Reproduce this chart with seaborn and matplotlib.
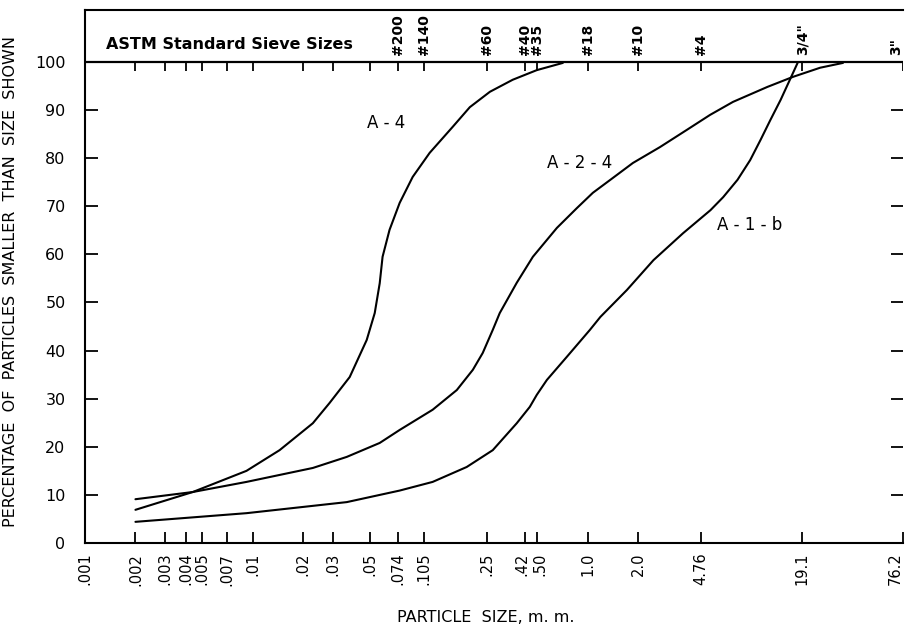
import matplotlib
matplotlib.use("Agg")
import matplotlib.pyplot as plt
from matplotlib.transforms import ScaledTranslation
import seaborn as sns
import pandas as pd

# ---- data ----
a4_size = [0.002, 0.0044, 0.0092, 0.0145, 0.0229, 0.0288, 0.038, 0.048, 0.0536,
           0.0574, 0.0597, 0.0657, 0.0755, 0.0903, 0.114, 0.1564, 0.198, 0.261,
           0.357, 0.497, 0.711]
a4_pct = [6.9, 10.6, 15.0, 19.3, 24.9, 29.1, 34.5, 42.2, 47.8,
          54.0, 59.5, 65.1, 70.7, 76.1, 81.1, 86.5, 90.6, 93.8,
          96.3, 98.3, 99.8]

a24_size = [0.002, 0.0044, 0.0092, 0.0229, 0.0365, 0.0574, 0.0755, 0.1188, 0.1656,
            0.2064, 0.2364, 0.2714, 0.2987, 0.3774, 0.471, 0.655, 0.861, 1.074,
            1.415, 1.862, 2.70, 3.915, 5.38, 7.37, 11.8, 16.8, 24.4, 33.4]
a24_pct = [9.1, 10.6, 12.7, 15.6, 17.9, 20.8, 23.5, 27.7, 31.8,
           36.0, 39.5, 44.3, 47.8, 54.1, 59.5, 65.5, 69.6, 72.8,
           75.9, 79.0, 82.3, 85.9, 89.0, 91.7, 94.8, 96.9, 98.8, 99.8]

a1b_size = [0.002, 0.0092, 0.0365, 0.0755, 0.1188, 0.1897, 0.2714, 0.3774, 0.4515,
            0.497, 0.571, 0.751, 1.031, 1.191, 1.715, 2.47, 3.71, 5.41, 6.44,
            7.84, 9.33, 10.76, 12.3, 14.17, 16.1, 17.9]
a1b_pct = [4.4, 6.2, 8.5, 10.9, 12.7, 15.8, 19.3, 24.9, 28.3,
           30.8, 33.9, 38.7, 44.3, 47.0, 52.6, 58.8, 64.4, 69.2, 71.9,
           75.5, 79.6, 83.8, 87.9, 92.1, 96.3, 99.8]

curve_names = ["A - 4", "A - 2 - 4", "A - 1 - b"]
label_x = [0.0624, 0.90, 9.3]
label_y = [87.3, 79.0, 66.1]

x_ticks = [0.001, 0.002, 0.003, 0.004, 0.005, 0.007, 0.01, 0.02, 0.03, 0.05, 0.074,
           0.105, 0.25, 0.42, 0.50, 1.0, 2.0, 4.76, 19.1, 76.2]
x_tick_labels = [".001", ".002", ".003", ".004", ".005", ".007", ".01", ".02", ".03",
                 ".05", ".074", ".105", ".25", ".42", ".50", "1.0", "2.0", "4.76",
                 "19.1", "76.2"]

sieve_pos = [0.074, 0.105, 0.25, 0.42, 0.50, 1.0, 2.0, 4.76, 19.1, 76.2]
sieve_labels = ["#200", "#140", "#60", "#40", "#35", "#18", "#10", "#4", '3/4"', '3"']

y_ticks = [0, 10, 20, 30, 40, 50, 60, 70, 80, 90, 100]

# ---- build table ----
frames = []
for name, xs, ys in [(curve_names[0], a4_size, a4_pct),
                     (curve_names[1], a24_size, a24_pct),
                     (curve_names[2], a1b_size, a1b_pct)]:
    frames.append(pd.DataFrame({"size": xs, "pct": ys, "soil": name}))
df = pd.concat(frames, ignore_index=True)

sns.set_style("ticks")
plt.rcParams["font.family"] = ["DejaVu Sans"]
plt.rcParams["text.color"] = "black"
plt.rcParams["axes.labelcolor"] = "black"
plt.rcParams["xtick.color"] = "black"
plt.rcParams["ytick.color"] = "black"
plt.rcParams["axes.edgecolor"] = "black"

fig = plt.figure(figsize=(9.05, 6.31), dpi=100)
ax = fig.add_axes([85 / 905, 88 / 631, 818 / 905, 533 / 631])

sns.lineplot(data=df, x="size", y="pct", units="soil", estimator=None, sort=False,
             color="black", linewidth=1.5, ax=ax, legend=False)

ax.set_xscale("log")
ax.set_xlim(0.001, 76.2)
ax.set_ylim(0, 110.8)

ax.set_xticks(x_ticks)
ax.set_xticklabels(x_tick_labels, rotation=90, fontsize=10.5)
ax.xaxis.set_minor_locator(matplotlib.ticker.NullLocator())
ax.set_yticks(y_ticks)
ax.set_yticklabels([str(v) for v in y_ticks], fontsize=11.5)

ax.tick_params(axis="x", direction="in", length=8, width=1.3, pad=7, top=False,
               colors="black")
ax.tick_params(axis="y", direction="in", length=9, width=1.3, pad=14,
               right=True, labelright=False, colors="black")

# small nudges so crowded / edge labels stay readable
xlabels = ax.get_xticklabels()
for idx, dx in [(13, -3), (14, 3)]:
    lab = xlabels[idx]
    lab.set_transform(lab.get_transform() + ScaledTranslation(dx / 100, 0, fig.dpi_scale_trans))
xlabels[-1].set_horizontalalignment("right")

for s in ["left", "bottom", "top"]:
    ax.spines[s].set_linewidth(1.5)
    ax.spines[s].set_color("black")
ax.spines["right"].set_visible(False)

# 100 % line and sieve ticks
ax.axhline(100, color="black", linewidth=1.6)
ax.vlines(x_ticks[1:], 100 - 1.8, 100, color="black", linewidth=1.3)

for xp, lab in zip(sieve_pos, sieve_labels):
    ha = "right" if lab == '3"' else "center"
    ax.text(xp, 101.5, lab, rotation=90, ha=ha, va="bottom", fontsize=10,
            fontweight="bold", clip_on=False, color="black")

ax.text(0.00134, 102.0, "ASTM Standard Sieve Sizes", ha="left", va="bottom",
        fontsize=11.5, fontweight="bold", color="black")

for name, lx, ly in zip(curve_names, label_x, label_y):
    ax.text(lx, ly, name, ha="center", va="center", fontsize=12, color="black")

ax.set_xlabel("PARTICLE  SIZE, m. m.", fontsize=11.5, color="black")
ax.set_ylabel("PERCENTAGE  OF  PARTICLES  SMALLER  THAN  SIZE  SHOWN", fontsize=11.5,
              color="black")
ax.xaxis.set_label_coords(0.49, -0.126)
ax.yaxis.set_label_coords(-0.082, 0.49)

fig.savefig("out.png", dpi=100)
